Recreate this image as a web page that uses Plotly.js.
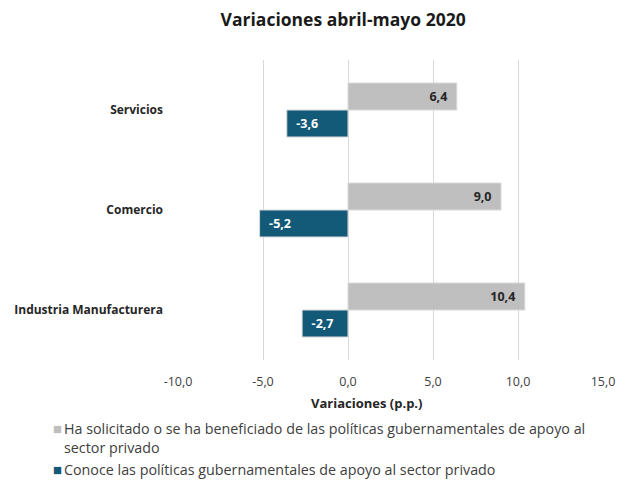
<!DOCTYPE html>
<html>
<head>
<meta charset="utf-8">
<script src="https://cdn.plot.ly/plotly-3.0.1.min.js"></script>
<style>html,body{margin:0;padding:0;background:#fff;}#chart{width:625px;height:481px;}</style>
</head>
<body>
<div id="chart"></div>
<script>
const categories = ['Servicios', 'Comercio', 'Industria Manufacturera'];
const solicitado = [6.4, 9.0, 10.4];
const conoce = [-3.6, -5.2, -2.7];
const seriesNames = [
  'Ha solicitado o se ha beneficiado de las políticas gubernamentales de apoyo al<br>sector privado',
  'Conoce las políticas gubernamentales de apoyo al sector privado'
];
const seriesColors = ['#bfbfbf', '#135978'];
const xTicks = [-10, -5, 0, 5, 10, 15];
const xTickLabels = ['-10,0', '-5,0', '0,0', '5,0', '10,0', '15,0'];

const font = 'Open Sans, Noto Sans, sans-serif';
const fmt = v => v.toFixed(1).replace('.', ',');
const NB = '\u00a0';

const PT = 60, PB = 360, PL = 178, PR = 603;
const px2py = y => 1 - (y - PT) / (PB - PT);
const px2px = x => (x - PL) / (PR - PL);

const traces = [
  {
    type: 'bar', orientation: 'h', name: seriesNames[0], showlegend: false,
    y: categories, x: solicitado,
    marker: {color: seriesColors[0], line: {color: '#d9d9d9', width: 1}},
    text: solicitado.map(v => '<b>' + fmt(v) + '</b>' + NB + NB),
    textposition: 'inside', insidetextanchor: 'end',
    textfont: {color: '#262626', size: 12.5, family: font},
    hoverinfo: 'none'
  },
  {
    type: 'bar', orientation: 'h', name: seriesNames[1], showlegend: false,
    y: categories, x: conoce,
    marker: {color: seriesColors[1], line: {color: '#d9d9d9', width: 1}},
    text: conoce.map(v => NB + NB + '<b>' + fmt(v) + '</b>'),
    textposition: 'inside', insidetextanchor: 'end',
    textfont: {color: '#ffffff', size: 12.5, family: font},
    hoverinfo: 'none'
  }
];

// legend drawn as annotations (small squares + text), matching the reference style
const legendY = [427, 468];
const annotations = [];
seriesNames.forEach((name, i) => {
  const yTop = legendY[i];
  annotations.push({
    xref: 'paper', yref: 'paper', x: px2px(51), y: px2py(yTop + 1),
    xanchor: 'left', yanchor: 'middle', showarrow: false,
    text: '<span style="color:' + seriesColors[i] + '">■</span>',
    font: {size: 9.5, family: 'DejaVu Sans, sans-serif'}
  });
  annotations.push({
    xref: 'paper', yref: 'paper', x: px2px(62), y: px2py(yTop - 10),
    xanchor: 'left', yanchor: 'top', align: 'left', showarrow: false,
    text: name, font: {size: 14.3, color: '#404040', family: font}
  });
});
annotations.push({
  xref: 'paper', yref: 'paper', x: px2px(366), y: px2py(403),
  xanchor: 'center', yanchor: 'middle', showarrow: false,
  text: '<b>Variaciones (p.p.)</b>', font: {size: 13, color: '#262626', family: font}
});

const layout = {
  width: 625, height: 481,
  margin: {l: PL, r: 625 - PR, t: PT, b: 481 - PB},
  paper_bgcolor: '#fff', plot_bgcolor: '#fff',
  font: {family: font, color: '#404040', size: 12},
  title: {text: '<b>Variaciones abril-mayo 2020</b>', x: 0.549, xanchor: 'center', y: 0.958, yanchor: 'middle',
          font: {family: font, size: 17.5, color: '#1a1a1a'}},
  barmode: 'group', bargap: 0.46, bargroupgap: 0,
  xaxis: {
    range: [-10, 15], tickvals: xTicks, ticktext: xTickLabels,
    showgrid: true, gridcolor: '#d9d9d9', gridwidth: 1,
    zeroline: true, zerolinecolor: '#d9d9d9', zerolinewidth: 1,
    showline: false, ticks: '', ticklabelstandoff: 12,
    tickfont: {size: 12.5, color: '#404040', family: font}
  },
  yaxis: {
    autorange: 'reversed', showgrid: false, showline: false, ticks: '',
    ticklabelstandoff: 14,
    tickfont: {size: 12, color: '#262626', family: font},
    tickvals: categories, ticktext: categories.map(c => '<b>' + c + '</b>')
  },
  showlegend: false,
  annotations: annotations
};

Plotly.newPlot('chart', traces, layout, {displayModeBar: false, staticPlot: true});
</script>
</body>
</html>
